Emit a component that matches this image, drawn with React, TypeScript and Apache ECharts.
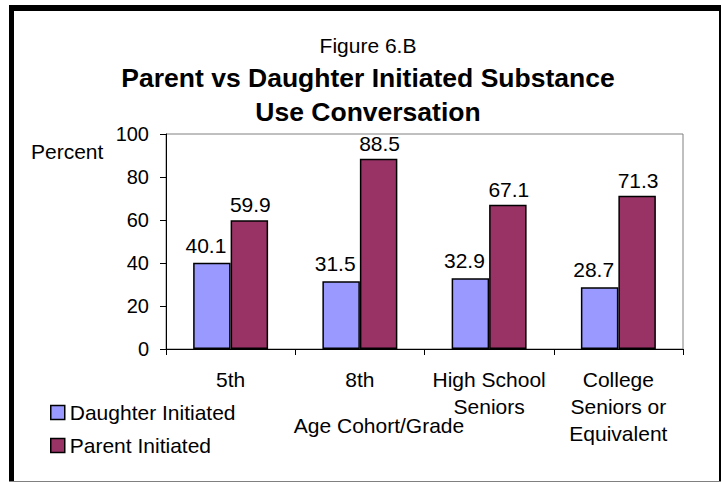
import React, { useEffect, useRef } from "react";
import * as echarts from "echarts";

const categories = ["5th", "8th", "High School\nSeniors", "College\nSeniors or\nEquivalent"];
const daughterInitiated = [40.1, 31.5, 32.9, 28.7];
const parentInitiated = [59.9, 88.5, 67.1, 71.3];
const seriesNames = ["Daughter Initiated", "Parent Initiated"];
const yTicks = { min: 0, max: 100, interval: 20 };

const FONT = "'Liberation Sans', Arial, sans-serif";

export default function App() {
  const ref = useRef<HTMLDivElement>(null);
  useEffect(() => {
    if (!ref.current) return;
    const chart = echarts.init(ref.current, undefined, { renderer: "svg" });
    const labelCfg = {
      show: true,
      position: "top" as const,
      distance: 5,
      fontSize: 21,
      fontFamily: FONT,
      color: "#000",
      formatter: (p: any) => Number(p.value).toFixed(1),
    };
    chart.setOption({
      animation: false,
      backgroundColor: "#fff",
      textStyle: { fontFamily: FONT },
      grid: {
        left: 166,
        top: 134,
        width: 517,
        height: 215,
        show: true,
        borderColor: "#808080",
        borderWidth: 1,
        backgroundColor: "transparent",
      },
      legend: {
        orient: "vertical",
        left: 50,
        top: 402,
        padding: 0,
        itemWidth: 14,
        itemHeight: 14,
        itemGap: 12,
        icon: "rect",
        textStyle: { fontSize: 21, fontFamily: FONT, color: "#000" },
        itemStyle: { borderColor: "#000", borderWidth: 1.5 },
        data: seriesNames,
      },
      xAxis: {
        type: "category",
        data: categories,
        axisLine: { lineStyle: { color: "#000", width: 1 } },
        axisTick: { show: true, length: 6, interval: 0, lineStyle: { color: "#000" } },
        axisLabel: {
          interval: 0,
          margin: 17,
          fontSize: 21,
          lineHeight: 27,
          color: "#000",
          fontFamily: FONT,
        },
      },
      yAxis: {
        type: "value",
        min: yTicks.min,
        max: yTicks.max,
        interval: yTicks.interval,
        axisLine: { show: true, lineStyle: { color: "#000", width: 1 } },
        axisTick: { show: true, length: 6, lineStyle: { color: "#000" } },
        splitLine: { show: false },
        axisLabel: { margin: 17, fontSize: 20, color: "#000", fontFamily: FONT },
      },
      series: [
        {
          name: seriesNames[0],
          type: "bar",
          data: daughterInitiated,
          barGap: "0%",
          barCategoryGap: "42%",
          itemStyle: { color: "#9999FF", borderColor: "#000", borderWidth: 1.5 },
          label: { ...labelCfg, offset: [-6, 0], distance: 7 },
        },
        {
          name: seriesNames[1],
          type: "bar",
          data: parentInitiated,
          barGap: "0%",
          barCategoryGap: "42%",
          itemStyle: { color: "#993366", borderColor: "#000", borderWidth: 1.5 },
          label: { ...labelCfg, offset: [1, 0] },
        },
      ],
      graphic: [
        { type: "rect", shape: { x: 9, y: 5, width: 5, height: 477 }, style: { fill: "#000" } },
        { type: "rect", shape: { x: 9, y: 5, width: 712, height: 6 }, style: { fill: "#000" } },
        { type: "rect", shape: { x: 719, y: 5, width: 2, height: 477 }, style: { fill: "#000" } },
        { type: "rect", shape: { x: 9, y: 481, width: 712, height: 1 }, style: { fill: "#808080" } },
        {
          type: "text",
          x: 368,
          y: 45,
          style: { text: "Figure 6.B", fontSize: 21, fontFamily: FONT, fill: "#000", align: "center", verticalAlign: "middle" },
        },
        {
          type: "text",
          x: 368,
          y: 78,
          style: {
            text: "Parent vs Daughter Initiated Substance",
            fontSize: 26.5,
            fontWeight: "bold",
            fontFamily: FONT,
            fill: "#000",
            align: "center",
            verticalAlign: "middle",
          },
        },
        {
          type: "text",
          x: 368,
          y: 112,
          style: {
            text: "Use Conversation",
            fontSize: 26.5,
            fontWeight: "bold",
            fontFamily: FONT,
            fill: "#000",
            align: "center",
            verticalAlign: "middle",
          },
        },
        {
          type: "text",
          x: 31,
          y: 151,
          style: { text: "Percent", fontSize: 21, fontFamily: FONT, fill: "#000", align: "left", verticalAlign: "middle" },
        },
        {
          type: "text",
          x: 379,
          y: 425,
          style: { text: "Age Cohort/Grade", fontSize: 21, fontFamily: FONT, fill: "#000", align: "center", verticalAlign: "middle" },
        },
      ],
    });
    return () => chart.dispose();
  }, []);
  return (
    <div
      ref={ref}
      style={{ position: "fixed", left: 0, top: 0, width: 723, height: 482, background: "#fff" }}
    />
  );
}
